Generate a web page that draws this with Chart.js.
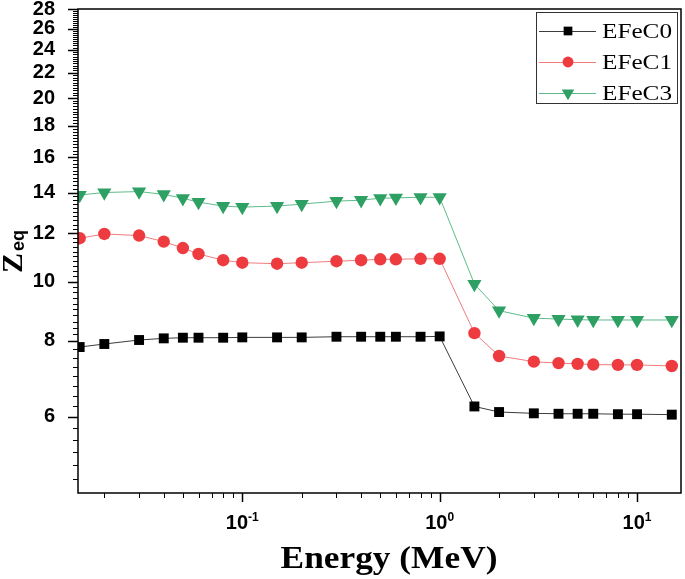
<!DOCTYPE html>
<html><head><meta charset="utf-8">
<script src="https://cdn.jsdelivr.net/npm/chart.js@4.4.1/dist/chart.umd.min.js"></script>
<style>html,body{margin:0;padding:0;background:#fff;overflow:hidden}</style>
</head><body>
<canvas id="c" width="685" height="579"></canvas>
<script>
const seriesNames = ['EFeC0', 'EFeC1', 'EFeC3'];
const energies = [0.015,0.02,0.03,0.04,0.05,0.06,0.08,0.1,0.15,0.2,0.3,0.4,0.5,0.6,0.8,1,1.5,2,3,4,5,6,8,10,15];
const zeqEFeC0 = [7.81,7.90,8.02,8.07,8.09,8.09,8.09,8.10,8.10,8.10,8.12,8.12,8.12,8.12,8.12,8.13,6.24,6.11,6.08,6.07,6.07,6.07,6.06,6.06,6.05];
const zeqEFeC1 = [11.78,11.97,11.90,11.63,11.35,11.10,10.84,10.74,10.70,10.74,10.80,10.84,10.88,10.88,10.90,10.90,8.23,7.55,7.39,7.35,7.33,7.31,7.30,7.30,7.27];
const zeqEFeC3 = [13.87,14.00,14.05,13.90,13.70,13.50,13.30,13.25,13.30,13.40,13.55,13.60,13.70,13.72,13.75,13.75,9.91,8.96,8.71,8.68,8.66,8.65,8.65,8.65,8.65];
const yTickLabels = [6,8,10,12,14,16,18,20,22,24,26,28];
const xTickValues = [0.1, 1, 10];
const xTickExponents = ['-1', '0', '1'];
const xMinorTicks = [0.02,0.03,0.04,0.05,0.06,0.07,0.08,0.09,0.2,0.3,0.4,0.5,0.6,0.7,0.8,0.9,2,3,4,5,6,7,8,9];
const xTitle = 'Energy (MeV)';
const yTitleMain = 'Z';
const yTitleSub = 'eq';

function yMinorTicks() {
  const t = [];
  for (let v = 4.75; v < 8; v += 0.25) t.push(+v.toFixed(2));
  for (let v = 8.2; v < 28; v += 0.2) t.push(+v.toFixed(2));
  return t;
}

function pts(arr) { return energies.map((e, i) => ({x: e, y: arr[i]})); }

const SANS = '"Liberation Sans", Arial, sans-serif';
const SERIF = '"Liberation Serif", "Times New Roman", serif';

const deco = {
  id: 'deco',
  afterDraw(chart) {
    const {ctx, chartArea: a, scales: {x, y}} = chart;
    ctx.save();
    ctx.strokeStyle = '#000';
    ctx.lineWidth = 1.5;
    ctx.strokeRect(a.left, a.top, a.right - a.left, a.bottom - a.top);
    ctx.lineWidth = 1;
    ctx.beginPath();
    yMinorTicks().forEach(v => {
      if (yTickLabels.includes(v)) return;
      const p = Math.round(y.getPixelForValue(v)) + 0.5;
      if (p < a.top || p > a.bottom) return;
      ctx.moveTo(a.left, p); ctx.lineTo(a.left - 5, p);
    });
    ctx.stroke();
    ctx.lineWidth = 1.5;
    ctx.beginPath();
    yTickLabels.forEach(v => {
      const p = Math.round(y.getPixelForValue(v)) + 0.5;
      ctx.moveTo(a.left, p); ctx.lineTo(a.left - 10, p);
    });
    ctx.stroke();
    ctx.lineWidth = 1;
    ctx.beginPath();
    xMinorTicks.forEach(v => {
      const p = Math.round(x.getPixelForValue(v)) + 0.5;
      if (p < a.left || p > a.right) return;
      ctx.moveTo(p, a.bottom); ctx.lineTo(p, a.bottom + 5);
    });
    ctx.stroke();
    ctx.lineWidth = 1.5;
    ctx.beginPath();
    xTickValues.forEach(v => {
      const p = Math.round(x.getPixelForValue(v)) + 0.5;
      ctx.moveTo(p, a.bottom); ctx.lineTo(p, a.bottom + 9);
    });
    ctx.stroke();
    ctx.fillStyle = '#000';
    ctx.textBaseline = 'alphabetic';
    xTickValues.forEach((v, i) => {
      const p = x.getPixelForValue(v);
      ctx.font = 'bold 20px ' + SANS;
      const wb = ctx.measureText('10').width;
      ctx.font = 'bold 12px ' + SANS;
      const we = ctx.measureText(xTickExponents[i]).width;
      const start = p - (wb + we) / 2;
      ctx.font = 'bold 20px ' + SANS;
      ctx.textAlign = 'left';
      ctx.fillText('10', start, a.bottom + 36);
      ctx.font = 'bold 12px ' + SANS;
      ctx.fillText(xTickExponents[i], start + wb, a.bottom + 28);
    });
    ctx.save();
    ctx.translate(389, 568);
    ctx.scale(1.14, 1);
    ctx.font = 'bold 31px ' + SERIF;
    ctx.textAlign = 'center';
    ctx.fillText(xTitle, 0, 0);
    ctx.restore();
    ctx.save();
    ctx.translate(22, 273);
    ctx.rotate(-Math.PI / 2);
    ctx.textAlign = 'left';
    ctx.font = 'bold 30px ' + SERIF;
    ctx.fillText(yTitleMain, 0, 0);
    const wz = ctx.measureText(yTitleMain).width;
    ctx.font = 'bold 18px ' + SANS;
    ctx.fillText(yTitleSub, wz + 2, 2);
    ctx.restore();
    ctx.lineWidth = 1;
    ctx.strokeStyle = '#333';
    ctx.strokeRect(536.5, 12.5, 141, 91);
    chart.data.datasets.forEach((ds, i) => {
      const ry = 31 + i * 31;
      ctx.strokeStyle = ds.borderColor;
      ctx.lineWidth = 1;
      ctx.beginPath();
      ctx.moveTo(539, ry + 0.5); ctx.lineTo(596, ry + 0.5);
      ctx.stroke();
      ctx.fillStyle = ds.pointBackgroundColor;
      ctx.strokeStyle = ds.pointBorderColor;
      Chart.helpers.drawPoint(ctx, {
        pointStyle: ds.pointStyle,
        rotation: ds.pointRotation || 0,
        radius: ds.pointRadius * 0.88,
        borderWidth: 0
      }, 568, ry);
      ctx.save();
      ctx.translate(602, ry + 7);
      ctx.scale(1.2, 1);
      ctx.fillStyle = '#000';
      ctx.font = '21px ' + SERIF;
      ctx.textAlign = 'left';
      ctx.fillText(ds.label, 0, 0);
      ctx.restore();
    });
    ctx.restore();
  }
};

new Chart(document.getElementById('c'), {
  type: 'line',
  data: {
    datasets: [
      {label: seriesNames[0], data: pts(zeqEFeC0), borderColor: '#3c3c3c', borderWidth: 1,
       pointStyle: 'rect', pointRadius: 7, pointBackgroundColor: '#000', pointBorderColor: '#000', pointBorderWidth: 0, clip: 0},
      {label: seriesNames[1], data: pts(zeqEFeC1), borderColor: '#f07c7c', borderWidth: 1,
       pointStyle: 'circle', pointRadius: 6.2, pointBackgroundColor: '#ee3b40', pointBorderColor: '#ee3b40', pointBorderWidth: 0, clip: 0},
      {label: seriesNames[2], data: pts(zeqEFeC3), borderColor: '#5dbb8a', borderWidth: 1,
       pointStyle: 'triangle', pointRotation: 180, pointRadius: 8.2, pointBackgroundColor: '#2ea063', pointBorderColor: '#2ea063', pointBorderWidth: 0, clip: 0}
    ]
  },
  options: {
    responsive: false,
    animation: false,
    devicePixelRatio: 1,
    layout: {autoPadding: false, padding: {top: 9, right: 4, left: 0, bottom: 0}},
    plugins: {legend: {display: false}, tooltip: {enabled: false}},
    elements: {line: {tension: 0}},
    scales: {
      x: {
        type: 'logarithmic', min: 0.01471, max: 16.7,
        grid: {display: false}, border: {display: false},
        ticks: {display: false},
        afterFit(s) { s.height = 86; s.paddingLeft = 0; s.paddingRight = 0; }
      },
      y: {
        type: 'logarithmic', min: 4.5, max: 28,
        grid: {display: false}, border: {display: false},
        afterBuildTicks(s) { s.ticks = yTickLabels.map(v => ({value: v})); },
        ticks: {
          autoSkip: false, padding: 15, color: '#000',
          font: {family: 'Liberation Sans', size: 20, weight: 'bold'},
          callback: v => String(v)
        },
        afterFit(s) { s.width = 78; s.paddingTop = 0; s.paddingBottom = 0; }
      }
    }
  },
  plugins: [deco]
});
</script>
</body></html>
